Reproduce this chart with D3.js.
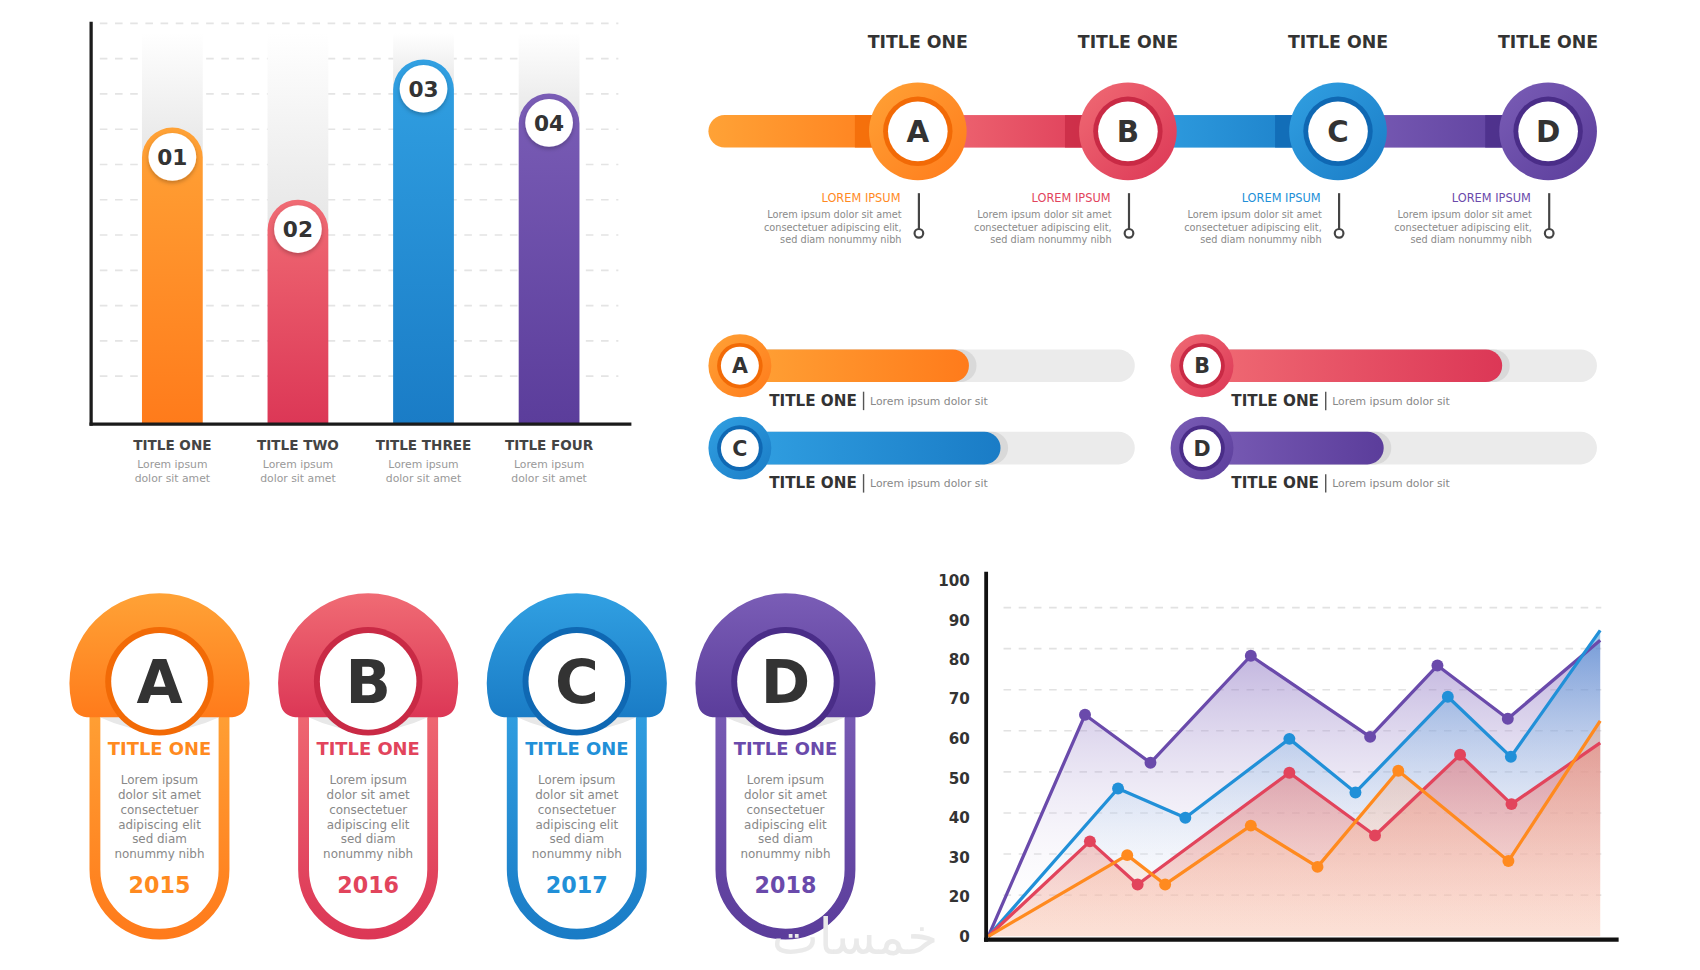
<!DOCTYPE html>
<html>
<head>
<meta charset="utf-8">
<script src="https://cdn.jsdelivr.net/npm/d3@7"></script>
<style>
  body { margin: 0; background: #fff; }
  svg { display: block; }
  text { font-family: "DejaVu Sans", "Noto Sans", sans-serif; }
</style>
</head>
<body>
<div id="plot"></div>
<script>
// data
const letters = ["A", "B", "C", "D"];
const barTitles = ["TITLE ONE", "TITLE TWO", "TITLE THREE", "TITLE FOUR"];
const barBadges = ["01", "02", "03", "04"];
const barValues = [74, 56, 91, 82.5];
const timelineTitles = ["TITLE ONE", "TITLE ONE", "TITLE ONE", "TITLE ONE"];
const progressValues = [58, 76, 66, 46];
const cardYears = ["2015", "2016", "2017", "2018"];
const cardBody = ["Lorem ipsum", "dolor sit amet", "consectetuer", "adipiscing elit", "sed diam", "nonummy nibh"];
const timelineBody = ["Lorem ipsum dolor sit amet", "consectetuer adipiscing elit,", "sed diam nonummy nibh"];
const lineTicks = [0, 20, 30, 40, 50, 60, 70, 80, 90, 100];
const purpleX = [0, 15.8, 26.5, 42.9, 62.4, 73.4, 84.9, 100];
const purpleY = [0, 66, 54, 81, 60.5, 78.5, 65, 85];
const blueX = [0, 21.2, 32.2, 49.2, 60, 75.1, 85.4, 100];
const blueY = [0, 47.5, 40, 60, 46.5, 70.5, 55.5, 87.5];
const redX = [0, 16.6, 24.4, 49.2, 63.2, 77.1, 85.5, 100];
const redY = [0, 34, 23, 51.5, 35.5, 56, 43.5, 59];
const orangeX = [0, 22.7, 28.9, 42.9, 53.8, 67, 85, 100];
const orangeY = [0, 30.5, 23, 38, 27.5, 52, 29, 64.5];

// colours: light, dark, deep ring
const palette = [
  {light: "#ffa236", dark: "#ff7b1b", deep: "#f26a06", line: "#ff8a1f"},
  {light: "#f06b74", dark: "#dc3756", deep: "#c92a45", line: "#e2445c"},
  {light: "#31a0e2", dark: "#1a7cc6", deep: "#0f68b3", line: "#2190d8"},
  {light: "#7a5db6", dark: "#5b3d9b", deep: "#4a2d88", line: "#6a4aab"}
];

const w = 1700;
const h = 970;

const svg = d3.select("div#plot")
  .append("svg")
    .attr("width", w)
    .attr("height", h)
    .attr("viewBox", "0 0 1567 894");

const defs = svg.append("defs");

defs.append("filter")
  .attr("id", "shadow")
  .attr("x", "-30%").attr("y", "-30%").attr("width", "160%").attr("height", "160%")
  .append("feDropShadow")
    .attr("dx", 0).attr("dy", 2).attr("stdDeviation", 2)
    .attr("flood-color", "#000").attr("flood-opacity", 0.25);

// vertical, horizontal and diagonal gradients for each colour
palette.forEach((c, i) => {
  const v = defs.append("linearGradient").attr("id", "v" + i)
    .attr("x1", 0).attr("y1", 0).attr("x2", 0).attr("y2", 1);
  v.append("stop").attr("offset", "0%").attr("stop-color", c.light);
  v.append("stop").attr("offset", "100%").attr("stop-color", c.dark);
  const hz = defs.append("linearGradient").attr("id", "h" + i)
    .attr("x1", 0).attr("y1", 0).attr("x2", 1).attr("y2", 0);
  hz.append("stop").attr("offset", "0%").attr("stop-color", c.light);
  hz.append("stop").attr("offset", "100%").attr("stop-color", c.dark);
  const d = defs.append("linearGradient").attr("id", "d" + i)
    .attr("x1", 0).attr("y1", 0).attr("x2", 1).attr("y2", 1);
  d.append("stop").attr("offset", "0%").attr("stop-color", c.light);
  d.append("stop").attr("offset", "100%").attr("stop-color", c.dark);
});

const grey = defs.append("linearGradient").attr("id", "greycol")
  .attr("x1", 0).attr("y1", 0).attr("x2", 0).attr("y2", 1);
grey.append("stop").attr("offset", "0%").attr("stop-color", "#fff");
grey.append("stop").attr("offset", "100%").attr("stop-color", "#e6e6e6");

// ---------- bar chart (top left) ----------
const bars = svg.append("g").attr("id", "bars");

const xBand = d3.scaleBand()
  .domain(barTitles)
  .range([101, 564])
  .paddingInner(0.516)
  .paddingOuter(0.258);

const yBar = d3.scaleLinear()
  .domain([0, 100])
  .range([391, 21.5]);

// dashed gridlines
bars.selectAll("line.grid")
  .data(d3.range(0, 11).map(k => 100 - k * 8.8))
  .enter()
  .append("line")
    .attr("x1", 92).attr("x2", 570)
    .attr("y1", d => yBar(d)).attr("y2", d => yBar(d))
    .attr("stroke", "#e4e4e4")
    .attr("stroke-width", 1.5)
    .attr("stroke-dasharray", "7 7");

const bw = xBand.bandwidth();

// grey fading columns behind bars
bars.selectAll("rect.back")
  .data(barValues)
  .enter()
  .append("rect")
    .attr("x", (d, i) => xBand(barTitles[i]))
    .attr("y", 30)
    .attr("width", bw)
    .attr("height", d => yBar(d) - 30 + bw / 2)
    .attr("fill", "url(#greycol)");

bars.selectAll("path.bar")
  .data(barValues)
  .enter()
  .append("path")
    .attr("d", (d, i) => {
      const x = xBand(barTitles[i]);
      const top = yBar(d);
      const r = bw / 2;
      return `M${x},${yBar(0)} L${x},${top + r} A${r},${r} 0 0 1 ${x + bw},${top + r} L${x + bw},${yBar(0)} Z`;
    })
    .attr("fill", (d, i) => `url(#v${i})`);

bars.selectAll("circle.badge")
  .data(barValues)
  .enter()
  .append("circle")
    .attr("cx", (d, i) => xBand(barTitles[i]) + bw / 2)
    .attr("cy", d => yBar(d) + 27)
    .attr("r", 22)
    .attr("fill", "#fff")
    .attr("filter", "url(#shadow)");

bars.selectAll("text.badge")
  .data(barValues)
  .enter()
  .append("text")
    .attr("x", (d, i) => xBand(barTitles[i]) + bw / 2)
    .attr("y", d => yBar(d) + 34.5)
    .attr("text-anchor", "middle")
    .attr("font-size", 20)
    .attr("font-weight", 700)
    .attr("fill", "#333")
    .text((d, i) => barBadges[i]);

// axes
bars.append("line")
  .attr("x1", 84).attr("x2", 84).attr("y1", 20).attr("y2", yBar(0) + 1.5)
  .attr("stroke", "#1b1b1b").attr("stroke-width", 3);
bars.append("line")
  .attr("x1", 82.5).attr("x2", 582).attr("y1", yBar(0)).attr("y2", yBar(0))
  .attr("stroke", "#1b1b1b").attr("stroke-width", 3);

const barLabels = bars.selectAll("g.lab")
  .data(barTitles)
  .enter()
  .append("g")
    .attr("transform", d => `translate(${xBand(d) + bw / 2}, 0)`);
barLabels.append("text")
  .attr("y", 415)
  .attr("text-anchor", "middle")
  .attr("font-size", 12.5)
  .attr("font-weight", 700)
  .attr("fill", "#444")
  .text(d => d);
barLabels.append("text")
  .attr("y", 431)
  .attr("text-anchor", "middle")
  .attr("font-size", 10)
  .attr("fill", "#999")
  .text("Lorem ipsum");
barLabels.append("text")
  .attr("y", 444)
  .attr("text-anchor", "middle")
  .attr("font-size", 10)
  .attr("fill", "#999")
  .text("dolor sit amet");

// ---------- timeline (top right) ----------
const tl = svg.append("g").attr("id", "timeline");
const xT = d3.scalePoint().domain(letters).range([846, 1427]);
const trackY = 121;

letters.forEach((l, i) => {
  const x0 = i === 0 ? 653 : xT(letters[i - 1]);
  const x1 = xT(l);
  tl.append("rect")
    .attr("x", x0).attr("y", trackY - 15)
    .attr("width", x1 - x0).attr("height", 30)
    .attr("rx", i === 0 ? 15 : 0)
    .attr("fill", `url(#h${i})`);
  tl.append("rect")
    .attr("x", x1 - 58).attr("y", trackY - 15)
    .attr("width", 18).attr("height", 30)
    .attr("fill", palette[i].deep)
    .attr("opacity", 0.8);
});

const nodes = tl.selectAll("g.node")
  .data(letters)
  .enter()
  .append("g")
    .attr("transform", d => `translate(${xT(d)}, ${trackY})`);
nodes.append("circle").attr("r", 45).attr("fill", (d, i) => `url(#d${i})`);
nodes.append("circle").attr("r", 32).attr("fill", (d, i) => palette[i].deep);
nodes.append("circle").attr("r", 27.5).attr("fill", "#fff");
nodes.append("text")
  .attr("y", 10)
  .attr("text-anchor", "middle")
  .attr("font-size", 27)
  .attr("font-weight", 700)
  .attr("fill", "#333")
  .text(d => d);
nodes.append("text")
  .attr("y", -77)
  .attr("text-anchor", "middle")
  .attr("font-size", 16)
  .attr("font-weight", 700)
  .attr("fill", "#333")
  .text((d, i) => timelineTitles[i]);
nodes.append("text")
  .attr("x", -16).attr("y", 65)
  .attr("text-anchor", "end")
  .attr("font-size", 10.5)
  .attr("fill", (d, i) => palette[i].line)
  .text("LOREM IPSUM");
timelineBody.forEach((t, k) => {
  nodes.append("text")
    .attr("x", -15).attr("y", 80 + k * 11.5)
    .attr("text-anchor", "end")
    .attr("font-size", 9)
    .attr("fill", "#8a8a8a")
    .text(t);
});
nodes.append("line")
  .attr("x1", 1).attr("x2", 1).attr("y1", 57).attr("y2", 90)
  .attr("stroke", "#444").attr("stroke-width", 2);
nodes.append("circle")
  .attr("cx", 1).attr("cy", 94).attr("r", 4)
  .attr("fill", "#fff").attr("stroke", "#444").attr("stroke-width", 2);

// ---------- progress bars (middle right) ----------
const pg = svg.append("g").attr("id", "progress");
const trackLen = 364;
const xP = d3.scaleLinear().domain([0, 100]).range([0, trackLen]);
const progPos = [[682, 337], [1108, 337], [682, 413], [1108, 413]];

const prog = pg.selectAll("g.prog")
  .data(progressValues)
  .enter()
  .append("g")
    .attr("transform", (d, i) => `translate(${progPos[i][0]}, ${progPos[i][1]})`);
prog.append("rect")
  .attr("x", 0).attr("y", -15).attr("width", xP(100)).attr("height", 30).attr("rx", 15)
  .attr("fill", "#ebebeb");
prog.append("rect")
  .attr("x", 0).attr("y", -15).attr("width", d => xP(d) + 7).attr("height", 30).attr("rx", 15)
  .attr("fill", "#d9d9d9");
prog.append("rect")
  .attr("x", 0).attr("y", -15).attr("width", d => xP(d)).attr("height", 30).attr("rx", 15)
  .attr("fill", (d, i) => `url(#h${i})`);
prog.append("circle").attr("r", 29).attr("fill", (d, i) => `url(#d${i})`);
prog.append("circle").attr("r", 21).attr("fill", (d, i) => palette[i].deep);
prog.append("circle").attr("r", 17.5).attr("fill", "#fff");
prog.append("text")
  .attr("y", 7)
  .attr("text-anchor", "middle")
  .attr("font-size", 19)
  .attr("font-weight", 700)
  .attr("fill", "#333")
  .text((d, i) => letters[i]);
prog.append("text")
  .attr("x", 27).attr("y", 37)
  .attr("font-size", 14)
  .attr("font-weight", 700)
  .attr("fill", "#333")
  .text("TITLE ONE");
prog.append("line")
  .attr("x1", 114).attr("x2", 114).attr("y1", 24).attr("y2", 41)
  .attr("stroke", "#555").attr("stroke-width", 1.3);
prog.append("text")
  .attr("x", 120).attr("y", 36)
  .attr("font-size", 10)
  .attr("fill", "#888")
  .text("Lorem ipsum dolor sit");

// ---------- cards (bottom left) ----------
const cd = svg.append("g").attr("id", "cards");
const xC = d3.scalePoint().domain(letters).range([147, 724]);

const card = cd.selectAll("g.card")
  .data(letters)
  .enter()
  .append("g")
    .attr("transform", d => `translate(${xC(d)}, 0)`);

// outlined stadium
card.append("path")
  .attr("d", "M-59.5,640 V801.5 A59.5,59.5 0 0 0 59.5,801.5 V640")
  .attr("fill", "#fff")
  .attr("stroke", (d, i) => `url(#v${i})`)
  .attr("stroke-width", 10);
// shadow under cap
card.append("path")
  .attr("d", "M-55,652 Q0,678 55,652 L55,661 Q0,687 -55,661 Z")
  .attr("fill", "#e8e8e8");
// cap
card.append("path")
  .attr("d", "M-81,648 A83,83 0 1 1 81,648 Q79,660 67,661 L-67,661 Q-79,660 -81,648 Z")
  .attr("fill", (d, i) => `url(#v${i})`);
card.append("circle").attr("cy", 628).attr("r", 50).attr("fill", (d, i) => palette[i].deep);
card.append("circle").attr("cy", 628).attr("r", 44.5).attr("fill", "#fff");
card.append("text")
  .attr("y", 648)
  .attr("text-anchor", "middle")
  .attr("font-size", 55)
  .attr("font-weight", 700)
  .attr("fill", "#333")
  .text(d => d);
card.append("text")
  .attr("y", 696)
  .attr("text-anchor", "middle")
  .attr("font-size", 16.5)
  .attr("font-weight", 700)
  .attr("fill", (d, i) => palette[i].line)
  .text("TITLE ONE");
cardBody.forEach((t, k) => {
  card.append("text")
    .attr("y", 723 + k * 13.6)
    .attr("text-anchor", "middle")
    .attr("font-size", 11)
    .attr("fill", "#888")
    .text(t);
});
card.append("text")
  .attr("y", 823)
  .attr("text-anchor", "middle")
  .attr("font-size", 20.5)
  .attr("font-weight", 700)
  .attr("fill", (d, i) => palette[i].line)
  .text((d, i) => cardYears[i]);

// watermark
svg.append("text")
  .attr("x", 788).attr("y", 879)
  .attr("text-anchor", "middle")
  .attr("font-size", 46)
  .attr("fill", "#eaeaea")
  .text("خمسات");

// ---------- line chart (bottom right) ----------
const lc = svg.append("g").attr("id", "lines");
const xL = d3.scaleLinear().domain([0, 100]).range([911, 1475]);
const yL = d3.scaleLinear()
  .domain(lineTicks)
  .range([863, 826, 790, 753.7, 717.8, 681, 644, 608, 572, 535]);
const yGrid = d3.scaleLinear().domain([20, 90]).range([825, 560]);

lc.selectAll("line.grid")
  .data(d3.range(20, 100, 10))
  .enter()
  .append("line")
    .attr("x1", 925).attr("x2", 1476)
    .attr("y1", d => yGrid(d)).attr("y2", d => yGrid(d))
    .attr("stroke", "#e2e2e2")
    .attr("stroke-width", 1.5)
    .attr("stroke-dasharray", "7 7");

const series = [
  {x: purpleX, y: purpleY, c: 3, top: "#7558b6", op: 0.6, bottom: "#ffffff", bop: 0},
  {x: blueX, y: blueY, c: 2, top: "#1f82d2", op: 0.55, bottom: "#ffffff", bop: 0},
  {x: redX, y: redY, c: 1, top: "#d8384f", op: 0.7, bottom: "#f7b6a0", bop: 0.35},
  {x: orangeX, y: orangeY, c: 0, top: "#f28a52", op: 0.5, bottom: "#fcd6c4", bop: 0.25}
];

series.forEach((s, i) => {
  const g = defs.append("linearGradient").attr("id", "area" + i)
    .attr("gradientUnits", "userSpaceOnUse")
    .attr("x1", 0).attr("y1", 560).attr("x2", 0).attr("y2", 866);
  g.append("stop").attr("offset", "0%").attr("stop-color", s.top).attr("stop-opacity", s.op);
  g.append("stop").attr("offset", "100%").attr("stop-color", s.bottom).attr("stop-opacity", s.bop);
});

const area = d3.area()
  .x(d => xL(d[0]))
  .y0(yL(0))
  .y1(d => yL(d[1]));
const line = d3.line()
  .x(d => xL(d[0]))
  .y(d => yL(d[1]));

series.forEach((s, i) => {
  lc.append("path")
    .datum(s.x.map((v, k) => [v, s.y[k]]))
    .attr("d", area)
    .attr("fill", `url(#area${i})`);
});
series.forEach(s => {
  const pts = s.x.map((v, k) => [v, s.y[k]]);
  lc.append("path")
    .datum(pts)
    .attr("d", line)
    .attr("fill", "none")
    .attr("stroke", palette[s.c].line)
    .attr("stroke-width", 3)
    .attr("stroke-linejoin", "round");
  lc.selectAll(null)
    .data(pts.slice(1, -1))
    .enter()
    .append("circle")
      .attr("cx", d => xL(d[0]))
      .attr("cy", d => yL(d[1]))
      .attr("r", 5.5)
      .attr("fill", palette[s.c].line);
});

// y axis labels
lc.append("g")
  .attr("transform", "translate(894, 0)")
  .call(d3.axisLeft(yL).tickValues(lineTicks).tickSize(0).tickPadding(0))
  .call(g => g.select(".domain").remove())
  .call(g => g.selectAll("text")
    .attr("font-family", "'DejaVu Sans', sans-serif")
    .attr("font-size", 14)
    .attr("font-weight", 700)
    .attr("fill", "#333"));

lc.append("line")
  .attr("x1", 909).attr("x2", 909).attr("y1", 527).attr("y2", 868)
  .attr("stroke", "#111").attr("stroke-width", 3.5);
lc.append("line")
  .attr("x1", 907).attr("x2", 1492).attr("y1", 866).attr("y2", 866)
  .attr("stroke", "#111").attr("stroke-width", 4);
</script>
</body>
</html>
